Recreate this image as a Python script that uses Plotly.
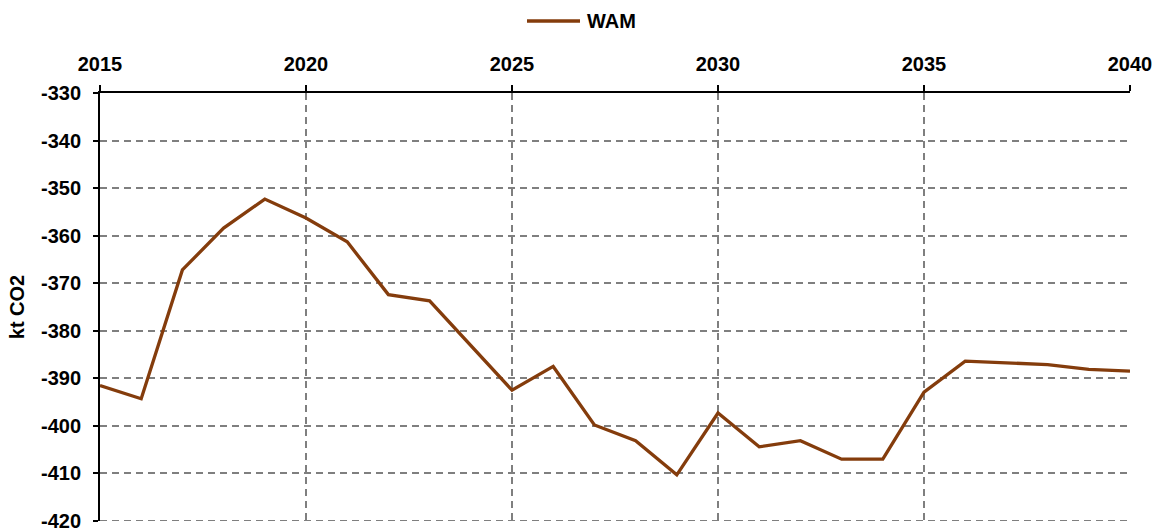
import plotly.graph_objects as go

# WAM projection, kt CO2 per year
years = list(range(2015, 2041))
wam = [-391.5, -394.3, -367.2, -358.4, -352.3, -356.3, -361.3, -372.4, -373.7, -383.0,
       -392.5, -387.5, -399.8, -403.1, -410.3, -397.3, -404.4, -403.1, -407.0, -407.0,
       -392.9, -386.4, -386.7, -387.1, -388.1, -388.5]

x_ticks = [2015, 2020, 2025, 2030, 2035, 2040]
y_ticks = [-420, -410, -400, -390, -380, -370, -360, -350, -340, -330]
y_tick_labels = [str(v) for v in y_ticks]  # plain hyphen minus

series_name = "WAM"
y_title = "kt CO2"
line_color = "#843C0C"
grid_color = "#7F7F7F"
font_family = "Liberation Sans, Arial, sans-serif"
bold20 = dict(family=font_family, size=20, color="black", weight="bold")

W, H = 1156, 530
ml, mr, mt, mb = 100, 26, 93, 9

fig = go.Figure()
fig.add_trace(go.Scatter(
    x=years, y=wam, mode="lines", name=series_name,
    line=dict(color=line_color, width=3.3),
    showlegend=False,
))

# Legend drawn by hand: a longer line sample and bold label above the plot
pw = W - ml - mr
ph = H - mt - mb
def px_to_paper_x(px):
    return (px - ml) / pw
def px_to_paper_y(py):
    return (H - mb - py) / ph

fig.add_shape(type="line", xref="paper", yref="paper",
              x0=px_to_paper_x(527), x1=px_to_paper_x(580),
              y0=px_to_paper_y(21), y1=px_to_paper_y(21),
              line=dict(color=line_color, width=3.3))
fig.add_annotation(xref="paper", yref="paper",
                   x=px_to_paper_x(585), y=px_to_paper_y(21),
                   text=series_name, showarrow=False,
                   xanchor="left", yanchor="middle", font=bold20)

# Bottom gridline at the lower range edge (plotly skips grid at the edge)
fig.add_shape(type="line", xref="paper", yref="y",
              x0=0, x1=1, y0=y_ticks[0], y1=y_ticks[0],
              line=dict(color=grid_color, width=1.8, dash="7px,5px"),
              layer="below")

fig.update_layout(
    width=W, height=H,
    margin=dict(l=ml, r=mr, t=mt, b=mb, pad=0),
    paper_bgcolor="white", plot_bgcolor="white",
    font=bold20,
)

grid = dict(showgrid=True, gridcolor=grid_color, gridwidth=1.8, griddash="7px,5px")

fig.update_xaxes(
    side="top", range=[2015, 2040], tickvals=x_ticks,
    showline=True, linecolor="black", linewidth=2,
    ticks="outside", ticklen=6, tickwidth=1.5, tickcolor="black",
    tickfont=bold20, ticklabelstandoff=6, automargin=False,
    zeroline=False, fixedrange=True, **grid,
)
fig.update_yaxes(
    range=[-420, -330], tickvals=y_ticks, ticktext=y_tick_labels,
    showline=True, linecolor="black", linewidth=2,
    ticks="outside", ticklen=5, tickwidth=1.5, tickcolor="black",
    tickfont=bold20, ticklabelstandoff=8, ticklabeloverflow="allow",
    automargin=False,
    title=dict(text=y_title, standoff=11, font=bold20),
    zeroline=False, fixedrange=True, **grid,
)

fig.write_html("out.html", config={"displayModeBar": False})
